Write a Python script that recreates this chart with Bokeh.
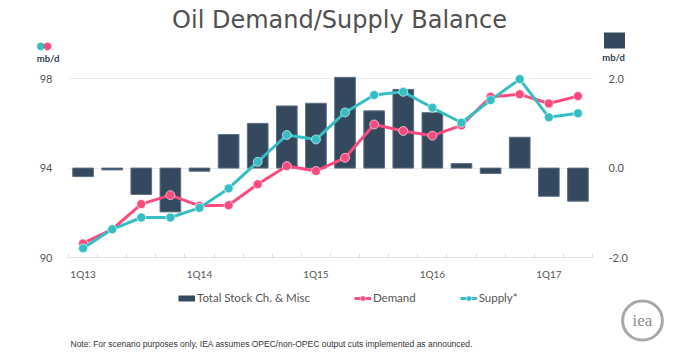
from bokeh.plotting import figure
from bokeh.models import (Range1d, LinearAxis, FixedTicker, PrintfTickFormatter,
                          Legend, LegendItem, Label)
from bokeh.embed import file_html
from bokeh.resources import INLINE

# ---- data ----
quarters = ["1Q13", "2Q13", "3Q13", "4Q13", "1Q14", "2Q14", "3Q14", "4Q14",
            "1Q15", "2Q15", "3Q15", "4Q15", "1Q16", "2Q16", "3Q16", "4Q16",
            "1Q17", "2Q17"]
demand = [90.63, 91.26, 92.39, 92.79, 92.31, 92.34, 93.28, 94.09, 93.87,
          94.46, 95.95, 95.66, 95.45, 95.91, 97.19, 97.30, 96.89, 97.22]
supply = [90.41, 91.26, 91.79, 91.79, 92.22, 93.09, 94.28, 95.48, 95.28,
          96.49, 97.27, 97.41, 96.70, 96.03, 97.04, 97.98, 96.27, 96.45]
stock = [-0.19, -0.04, -0.59, -0.98, -0.07, 0.75, 1.00, 1.39, 1.45,
         2.03, 1.28, 1.76, 1.24, 0.10, -0.12, 0.69, -0.63, -0.74]
left_ticks = [90, 94, 98]
right_ticks = [-2, 0, 2]

xs = list(range(len(quarters)))
NAVY = "#34495e"
PINK = "#fc4a7e"
CYAN = "#35bfc5"
GREY = "#555555"
W = 672
TOP_H = 67
MAIN_H = 222
BOT_H = 354 - TOP_H - MAIN_H


def blank(h, xr=(0, W)):
    f = figure(width=W, height=h, x_range=Range1d(*xr), y_range=Range1d(0, h),
               output_backend="svg", toolbar_location=None,
               min_border=0, x_axis_location=None, y_axis_location=None)
    f.outline_line_color = None
    f.grid.visible = False
    return f


def lab(f, x, y, text, **kw):
    f.add_layout(Label(x=x, y=y, x_units="screen", y_units="screen", text=text, **kw))


# ---- header ----
top = blank(TOP_H)
lab(top, 339, 48, "Oil Demand/Supply Balance", text_align="center",
    text_baseline="alphabetic", text_font="DejaVu Sans", text_font_size="24px",
    text_color="#505050")
lab(top, 47.5, 9.5, "mb/d", text_align="center", text_baseline="middle",
    text_font="Lato", text_font_style="bold", text_font_size="9.5px", text_color="#2c3e50")
lab(top, 40, 22, "\u25cf", text_align="center", text_baseline="middle",
    text_font="DejaVu Sans", text_font_size="10px", text_color=CYAN)
lab(top, 47, 22, "\u25cf", text_align="center", text_baseline="middle",
    text_font="DejaVu Sans", text_font_size="10px", text_color=PINK)
lab(top, 613, 10.5, "mb/d", text_align="center", text_baseline="middle",
    text_font="Lato", text_font_style="bold", text_font_size="9.5px", text_color="#2c3e50")
lab(top, 614, 27, "\u2003\u2002", text_align="center", text_baseline="middle",
    text_font="DejaVu Sans", text_font_size="14px", background_fill_color=NAVY)

# ---- main chart ----
p = figure(width=W, height=MAIN_H,
           x_range=Range1d(-0.5, len(quarters) - 0.5),
           y_range=Range1d(90, 98.5),
           output_backend="svg", toolbar_location=None,
           min_border_left=68, min_border_right=W - 68 - 524,
           min_border_top=0, min_border_bottom=MAIN_H - 190)
p.outline_line_color = None
p.extra_y_ranges = {"bars": Range1d(-2, 2.25)}

xa = p.xaxis[0]
xa.ticker = FixedTicker(ticks=[i for i, q in enumerate(quarters) if q.startswith("1Q")],
                        minor_ticks=[i - 0.5 for i in range(len(quarters) + 1)])
xa.major_label_overrides = {i: q for i, q in enumerate(quarters) if q.startswith("1Q")}
xa.major_tick_line_color = None
xa.minor_tick_in = 4
xa.minor_tick_out = 0
xa.minor_tick_line_color = "#dddddd"
xa.axis_line_color = "#e3e3e3"
xa.major_label_text_font = "Lato"
xa.major_label_text_font_size = "10px"
xa.major_label_text_color = GREY
xa.major_label_standoff = 4

ya = p.yaxis[0]
ya.ticker = FixedTicker(ticks=left_ticks)
ya.axis_line_color = None
ya.major_tick_line_color = None
ya.minor_tick_line_color = None
ya.major_label_text_font = "Lato"
ya.major_label_text_font_size = "11px"
ya.major_label_text_color = GREY
ya.major_label_standoff = 10

ra = LinearAxis(y_range_name="bars", ticker=FixedTicker(ticks=right_ticks),
                formatter=PrintfTickFormatter(format="%.1f"))
ra.axis_line_color = None
ra.major_tick_line_color = None
ra.minor_tick_line_color = None
ra.major_label_text_font = "Lato"
ra.major_label_text_font_size = "11px"
ra.major_label_text_color = GREY
ra.major_label_standoff = 10
p.add_layout(ra, "right")

p.xgrid.grid_line_color = None
p.ygrid.grid_line_color = "#ececec"

p.vbar(x=xs, top=stock, bottom=0, width=0.71, y_range_name="bars",
       fill_color=NAVY, line_color="#5b6f86", line_width=1)
p.line(xs, demand, line_color=PINK, line_width=3)
p.scatter(xs, demand, size=9, fill_color=PINK, line_color="white",
          line_alpha=0.6, line_width=1)
p.line(xs, supply, line_color=CYAN, line_width=3)
p.scatter(xs, supply, size=9, fill_color=CYAN, line_color="white",
          line_alpha=0.6, line_width=1)

# ---- footer: legend, note, logo ----
# the footer's x range lies away from the data, so its legend proxies stay off-screen
bot = blank(BOT_H, xr=(1000, 1000 + W))
r_bar = bot.line(xs, stock, line_color=NAVY, line_width=6)
r_dl = bot.line(xs, demand, line_color=PINK, line_width=3)
r_dc = bot.scatter(xs, demand, size=7, fill_color=PINK, line_color="white", line_alpha=0.6)
r_sl = bot.line(xs, supply, line_color=CYAN, line_width=3)
r_sc = bot.scatter(xs, supply, size=7, fill_color=CYAN, line_color="white", line_alpha=0.6)
legend = Legend(items=[LegendItem(label="Total Stock Ch. & Misc", renderers=[r_bar]),
                       LegendItem(label="Demand", renderers=[r_dl, r_dc]),
                       LegendItem(label="Supply*", renderers=[r_sl, r_sc])],
                location=(178, 354 - 304.5), orientation="horizontal",
                padding=0, margin=0, spacing=44, glyph_width=17, glyph_height=14,
                label_height=14, label_standoff=2, label_text_font="Lato",
                label_text_font_size="11.5px", label_text_color=GREY,
                border_line_color=None, background_fill_alpha=0)
bot.add_layout(legend)
lab(bot, 70, 354 - 343.5,
    "Note: For scenario purposes only, IEA assumes OPEC/non-OPEC output  cuts implemented as announced.",
    text_align="left", text_baseline="middle", text_font="Liberation Sans",
    text_font_size="8.5px", text_color="#333333")
lab(bot, 642, 354 - 320, "iea", text_align="center", text_baseline="middle",
    text_font="Liberation Serif", text_font_size="17px", text_color="#8c8c8c",
    border_line_color="#a8a8a8", border_line_width=3, border_radius=20, padding=10)

open("out.html", "w").write(file_html([top, p, bot], INLINE))
